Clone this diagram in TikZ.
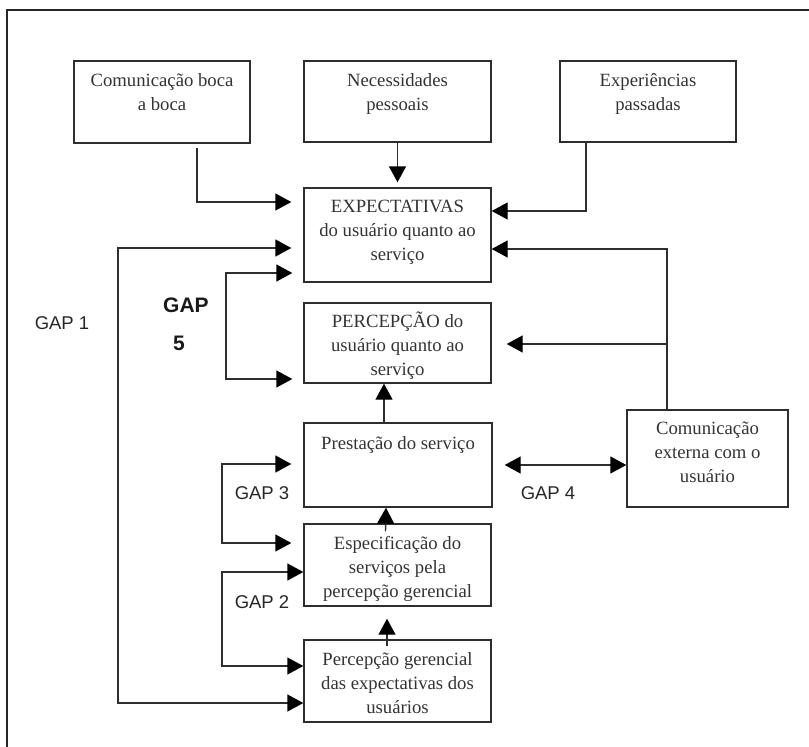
\documentclass[tikz,border=0pt]{standalone}
\usepackage{fontspec}
\setmainfont{Liberation Serif}
\newfontfamily\gapfont{Liberation Sans}
\usetikzlibrary{arrows.meta}
\begin{document}
\begin{tikzpicture}[x=1pt,y=-1pt,
  box/.style={draw=black!82, line width=1.4pt, minimum width=187pt, inner sep=0pt},
  boxtext/.style={anchor=north, align=center, inner sep=0pt, text=black!80,
    font=\fontsize{18.7}{24}\selectfont},
  gaplabel/.style={inner sep=0pt, text=black!85, font=\gapfont\fontsize{18.5}{22}\selectfont},
  gapbold/.style={inner sep=0pt, text=black!90, font=\gapfont\bfseries\fontsize{21}{24}\selectfont},
  conn/.style={draw=black!82, line width=1.4pt},
  arr/.style={conn, -{Triangle[length=16pt,width=17pt,color=black]}},
  darr/.style={conn, {Triangle[length=16pt,width=17pt,color=black]}-{Triangle[length=16pt,width=17pt,color=black]}},
]
\useasboundingbox (0,0) rectangle (809,747);

% page frame
\draw[black!85, line width=2.4pt] (809,10) -- (7,10) -- (7,747);

% top row of influences
\node[box, minimum width=176pt, minimum height=82pt] (boca) at (162,102) {};
\node[boxtext] (bocat) at ([yshift=-13pt]boca.north) {Comunicação boca\\a boca};
\node[box, minimum height=81pt] (neces) at (397.5,101.5) {};
\node[boxtext] (necest) at ([yshift=-13pt]neces.north) {Necessidades\\pessoais};
\node[box, minimum width=176pt, minimum height=81pt] (exper) at (648,101.5) {};
\node[boxtext] (expert) at ([yshift=-13pt]exper.north) {Experiências\\passadas};

% central column
\node[box, minimum height=94pt] (exp) at (397.5,235) {};
\node[boxtext] (expt) at ([yshift=-13pt]exp.north) {EXPECTATIVAS\\do usuário quanto ao\\serviço};
\node[box, minimum height=80pt] (perc) at (397.5,343) {};
\node[boxtext] (perct) at ([yshift=-9.5pt]perc.north) {PERCEPÇÃO do\\usuário quanto ao\\serviço};
\node[box, minimum width=188pt, minimum height=84pt] (prest) at (398,465) {};
\node[boxtext] (prestt) at ([yshift=-14pt]prest.north) {Prestação do serviço};
\node[box, minimum height=82pt] (espec) at (397.5,565) {};
\node[boxtext] (espect) at ([yshift=-13pt]espec.north) {Especificação do\\serviços pela\\percepção gerencial};
\node[box, minimum height=82pt] (pger) at (397.5,681) {};
\node[boxtext] (pgert) at ([yshift=-13pt]pger.north) {Percepção gerencial\\das expectativas dos\\usuários};

% external communication
\node[box, minimum width=161pt, minimum height=97pt] (cext) at (707.5,458.5) {};
\node[boxtext] (cextt) at ([yshift=-12pt]cext.north) {Comunicação\\externa com o\\usuário};

% gap labels
\node[gaplabel] (gap1) at (62,323) {GAP 1};
\node[gapbold] (gap5a) at (186,305) {GAP};
\node[gapbold] (gap5b) at (179,343) {5};
\node[gaplabel] (gap3) at (262,493) {GAP 3};
\node[gaplabel] (gap4) at (548,493) {GAP 4};
\node[gaplabel] (gap2) at (262,602) {GAP 2};

% bracket rails
\coordinate (r1) at (118,475);
\coordinate (r5) at (226,326);
\coordinate (r3) at (222,500);
\coordinate (r2) at (222,620);
\coordinate (cx) at ([xshift=-40.5pt]cext.north);
\coordinate (cbr) at (cx |- 0,344);

% influences on expectations
\draw[arr, shorten >=12pt] ([xshift=35pt,yshift=-4pt]boca.south) |- (exp.west |- 0,202);
\draw[arr, shorten >=5pt] (neces.south) -- (exp.north);
\draw[arr] ([xshift=-62pt]exper.south) |- (exp.east |- 0,211);
\draw[arr] (cx) |- (exp.east |- 0,249);
\draw[arr, shorten >=15pt] (cbr) -- (perc.east |- 0,344);

% service chain
\draw[arr] ([xshift=-14pt]prest.north) -- ([xshift=-13.5pt]perc.south);
\draw[arr] ([xshift=-12pt,yshift=-8pt]espec.north) -- ([xshift=-12pt]prest.south);
\draw[arr, shorten >=12pt] ([xshift=-10.5pt,yshift=-7pt]pger.north) -- ([xshift=-10.5pt]espec.south);

% gaps
\draw[darr, shorten <=12pt] (exp.west |- 0,248) -| (r1) |- (pger.west |- 0,703);
\draw[darr, shorten <=11pt, shorten >=11pt] (exp.west |- 0,273) -| (r5) |- (perc.west |- 0,379);
\draw[darr, shorten <=12pt, shorten >=12pt] (prest.west |- 0,464) -| (r3) |- (espec.west |- 0,543);
\draw[darr] (espec.west |- 0,572) -| (r2) |- (pger.west |- 0,666);
\draw[darr, shorten <=12pt] (prest.east |- 0,465) -- (cext.west |- 0,465);
\end{tikzpicture}
\end{document}
